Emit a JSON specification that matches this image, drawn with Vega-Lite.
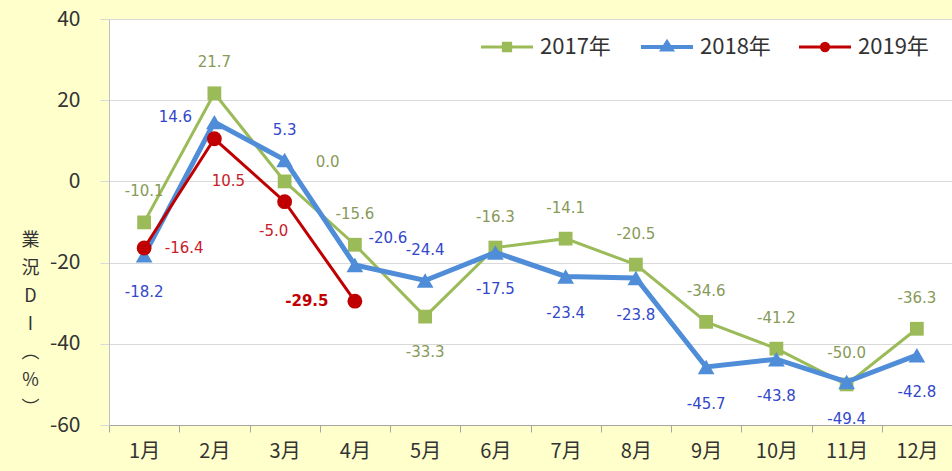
{
  "$schema": "https://vega.github.io/schema/vega-lite/v6.json",
  "autosize": {"type": "none"},
  "padding": {"left": 109, "top": 19, "right": 0, "bottom": 46},
  "width": 843,
  "height": 406,
  "background": "#FFFFCC",
  "config": {
    "view": {"fill": "white", "stroke": null},
    "locale": {"number": {"decimal": ".", "thousands": ",", "grouping": [3], "currency": ["$", ""], "minus": "-"}}
  },
  "data": {"values": [
    {"month": "1月", "year": "2017年", "value": -10.1},
    {"month": "2月", "year": "2017年", "value": 21.7},
    {"month": "3月", "year": "2017年", "value": 0.0},
    {"month": "4月", "year": "2017年", "value": -15.6},
    {"month": "5月", "year": "2017年", "value": -33.3},
    {"month": "6月", "year": "2017年", "value": -16.3},
    {"month": "7月", "year": "2017年", "value": -14.1},
    {"month": "8月", "year": "2017年", "value": -20.5},
    {"month": "9月", "year": "2017年", "value": -34.6},
    {"month": "10月", "year": "2017年", "value": -41.2},
    {"month": "11月", "year": "2017年", "value": -50.0},
    {"month": "12月", "year": "2017年", "value": -36.3},
    {"month": "1月", "year": "2018年", "value": -18.2},
    {"month": "2月", "year": "2018年", "value": 14.6},
    {"month": "3月", "year": "2018年", "value": 5.3},
    {"month": "4月", "year": "2018年", "value": -20.6},
    {"month": "5月", "year": "2018年", "value": -24.4},
    {"month": "6月", "year": "2018年", "value": -17.5},
    {"month": "7月", "year": "2018年", "value": -23.4},
    {"month": "8月", "year": "2018年", "value": -23.8},
    {"month": "9月", "year": "2018年", "value": -45.7},
    {"month": "10月", "year": "2018年", "value": -43.8},
    {"month": "11月", "year": "2018年", "value": -49.4},
    {"month": "12月", "year": "2018年", "value": -42.8},
    {"month": "1月", "year": "2019年", "value": -16.4},
    {"month": "2月", "year": "2019年", "value": 10.5},
    {"month": "3月", "year": "2019年", "value": -5.0},
    {"month": "4月", "year": "2019年", "value": -29.5}
  ]},
  "encoding": {
    "x": {
      "field": "month", "type": "nominal",
      "sort": ["1月","2月","3月","4月","5月","6月","7月","8月","9月","10月","11月","12月"],
      "scale": {"type": "band", "paddingInner": 0, "paddingOuter": 0},
      "axis": {
        "title": null, "labelAngle": 0, "tickBand": "extent", "tickSize": 7,
        "tickColor": "#A6A6A6", "domainColor": "#A6A6A6", "labelFontSize": 20,
        "labelColor": "#333333", "labelPadding": 9, "labelFont": "Noto Sans CJK JP", "grid": false
      }
    },
    "y": {
      "field": "value", "type": "quantitative",
      "scale": {"domain": [-60, 40], "nice": false, "zero": false},
      "axis": {
        "values": [-60, -40, -20, 0, 20, 40], "format": "d",
        "grid": true, "gridColor": "#D9D9D9", "tickColor": "#D9D9D9", "tickSize": 9,
        "domainColor": "#BFBFBF", "labelFontSize": 21, "labelColor": "#333333",
        "labelPadding": 20, "labelFont": "Noto Sans CJK JP",
        "title": ["業", "況", "D", "I", "︵", "%", "︶"],
        "titleAngle": 0, "titleX": -79, "titleY": 221, "titleBaseline": "middle",
        "titleAlign": "center", "titleLineHeight": 28, "titleFontSize": 18,
        "titleFont": "Noto Sans CJK JP", "titleFontWeight": "normal", "titleColor": "#333333"
      }
    },
    "color": {
      "field": "year", "type": "nominal",
      "scale": {"domain": ["2017年", "2018年", "2019年"], "range": ["#9BBB59", "#4F8DD8", "#C00000"]},
      "legend": null
    }
  },
  "layer": [
    {
      "transform": [{"filter": "datum.year === '2017年'"}],
      "mark": {"type": "line", "strokeWidth": 3},
      "encoding": {
        "color": {
          "field": "year", "type": "nominal",
          "legend": {
            "title": null, "orient": "none", "direction": "horizontal",
            "legendX": 371, "legendY": 17, "labelFontSize": 22, "labelFont": "Noto Sans CJK JP",
            "labelColor": "#333333", "symbolSize": 2704, "symbolOffset": 16, "labelOffset": 22, "columnPadding": 22,
            "symbolStrokeWidth": 3,
            "encode": {
              "symbols": {
                "update": {
                  "shape": {"signal": "datum.value === '2017年' ? 'M-1,0H-0.16M0.16,0H1M-0.14,-0.14H0.14V0.14H-0.14Z' : datum.value === '2018年' ? 'M-1,0H1M-0.17,0.1L0,-0.17L0.17,0.1Z' : 'M-1,0H1M-0.14,0A0.14,0.14 0 1,0 0.14,0A0.14,0.14 0 1,0 -0.14,0Z'"},
                  "fill": {"signal": "datum.value === '2017年' ? '#9BBB59' : datum.value === '2018年' ? '#4F8DD8' : '#C00000'"},
                  "stroke": {"signal": "datum.value === '2017年' ? '#9BBB59' : datum.value === '2018年' ? '#4F8DD8' : '#C00000'"},
                  "strokeWidth": {"signal": "datum.value === '2018年' ? 4 : 3"},
                  "opacity": {"value": 1}
                }
              }
            }
          }
        }
      }
    },
    {
      "transform": [{"filter": "datum.year === '2017年'"}],
      "mark": {"type": "point", "shape": "square", "filled": true, "opacity": 1, "size": 190}
    },
    {
      "transform": [{"filter": "datum.year === '2018年'"}],
      "mark": {"type": "line", "strokeWidth": 5}
    },
    {
      "transform": [{"filter": "datum.year === '2018年'"}],
      "mark": {"type": "point", "shape": "triangle-up", "filled": true, "opacity": 1, "size": 280}
    },
    {
      "transform": [{"filter": "datum.year === '2019年'"}],
      "mark": {"type": "line", "strokeWidth": 3}
    },
    {
      "transform": [{"filter": "datum.year === '2019年'"}],
      "mark": {"type": "point", "shape": "circle", "filled": true, "opacity": 1, "size": 220}
    },
    {
      "transform": [{"filter": "datum.year === '2017年' && datum.month !== '3月' && datum.month !== '5月'"}],
      "mark": {"type": "text", "dy": -31, "font": "DejaVu Sans", "fontSize": 15},
      "encoding": {"color": {"value": "#879A58"}, "text": {"field": "value", "type": "quantitative", "format": ".1f"}}
    },
    {
      "transform": [{"filter": "datum.year === '2017年' && datum.month === '3月'"}],
      "mark": {"type": "text", "dx": 43, "dy": -19, "font": "DejaVu Sans", "fontSize": 15},
      "encoding": {"color": {"value": "#879A58"}, "text": {"field": "value", "type": "quantitative", "format": ".1f"}}
    },
    {
      "transform": [{"filter": "datum.year === '2017年' && datum.month === '5月'"}],
      "mark": {"type": "text", "dy": 35, "font": "DejaVu Sans", "fontSize": 15},
      "encoding": {"color": {"value": "#879A58"}, "text": {"field": "value", "type": "quantitative", "format": ".1f"}}
    },
    {
      "transform": [{"filter": "datum.year === '2018年' && indexof(['2月','3月','4月','5月'], datum.month) < 0"}],
      "mark": {"type": "text", "dy": 37, "font": "DejaVu Sans", "fontSize": 15},
      "encoding": {"color": {"value": "#3347CC"}, "text": {"field": "value", "type": "quantitative", "format": ".1f"}}
    },
    {
      "transform": [{"filter": "datum.year === '2018年' && datum.month === '2月'"}],
      "mark": {"type": "text", "dx": -39, "dy": -5, "font": "DejaVu Sans", "fontSize": 15},
      "encoding": {"color": {"value": "#3347CC"}, "text": {"field": "value", "type": "quantitative", "format": ".1f"}}
    },
    {
      "transform": [{"filter": "datum.year === '2018年' && (datum.month === '3月' || datum.month === '5月')"}],
      "mark": {"type": "text", "dy": -30, "font": "DejaVu Sans", "fontSize": 15},
      "encoding": {"color": {"value": "#3347CC"}, "text": {"field": "value", "type": "quantitative", "format": ".1f"}}
    },
    {
      "transform": [{"filter": "datum.year === '2018年' && datum.month === '4月'"}],
      "mark": {"type": "text", "dx": 33, "dy": -27, "font": "DejaVu Sans", "fontSize": 15},
      "encoding": {"color": {"value": "#3347CC"}, "text": {"field": "value", "type": "quantitative", "format": ".1f"}}
    },
    {
      "transform": [{"filter": "datum.year === '2019年' && datum.month === '1月'"}],
      "mark": {"type": "text", "dx": 40, "dy": 0, "font": "DejaVu Sans", "fontSize": 15},
      "encoding": {"color": {"value": "#C8202A"}, "text": {"field": "value", "type": "quantitative", "format": ".1f"}}
    },
    {
      "transform": [{"filter": "datum.year === '2019年' && datum.month === '2月'"}],
      "mark": {"type": "text", "dx": 14, "dy": 42, "font": "DejaVu Sans", "fontSize": 15},
      "encoding": {"color": {"value": "#C8202A"}, "text": {"field": "value", "type": "quantitative", "format": ".1f"}}
    },
    {
      "transform": [{"filter": "datum.year === '2019年' && datum.month === '3月'"}],
      "mark": {"type": "text", "dx": -11, "dy": 29, "font": "DejaVu Sans", "fontSize": 15},
      "encoding": {"color": {"value": "#C8202A"}, "text": {"field": "value", "type": "quantitative", "format": ".1f"}}
    },
    {
      "transform": [{"filter": "datum.year === '2019年' && datum.month === '4月'"}],
      "mark": {"type": "text", "dx": -48, "dy": 0, "font": "DejaVu Sans", "fontSize": 15, "fontWeight": "bold"},
      "encoding": {"color": {"value": "#C00000"}, "text": {"field": "value", "type": "quantitative", "format": ".1f"}}
    }
  ]
}
